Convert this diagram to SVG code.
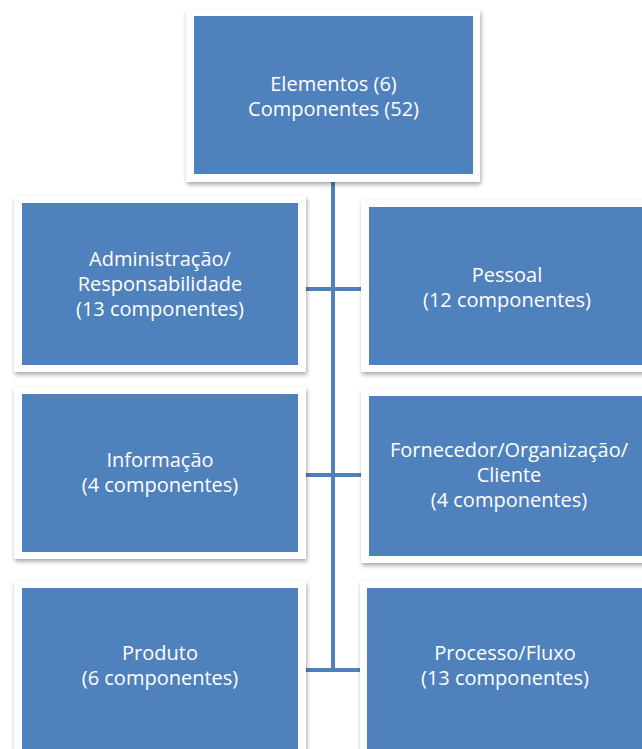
<svg xmlns="http://www.w3.org/2000/svg" width="642" height="749" viewBox="0 0 642 749">
  <defs>
    <filter id="shadow" x="-10%" y="-10%" width="120%" height="125%">
      <feDropShadow dx="1" dy="2.5" stdDeviation="2.2" flood-color="#000" flood-opacity="0.35"/>
    </filter>
  </defs>
  <style>
    .frame { fill: #ffffff; filter: url(#shadow); }
    .box { fill: #4f81bd; }
    .label { font-family: "Open Sans", "Liberation Sans", sans-serif; font-size: 20px; fill: #ffffff; text-anchor: middle; }
    .conn { stroke: #4f81bd; stroke-width: 4; fill: none; }
  </style>
  <rect width="642" height="749" fill="#ffffff"/>

  <!-- connectors: trunk from the root plus one cross-bar per row -->
  <g id="connectors">
    <line class="conn" x1="333" y1="178" x2="333" y2="672"/>
    <line class="conn" x1="304" y1="289" x2="363" y2="289"/>
    <line class="conn" x1="304" y1="475" x2="363" y2="475"/>
    <line class="conn" x1="304" y1="670" x2="363" y2="670"/>
  </g>

  <!-- root -->
  <g id="root">
    <rect class="frame" x="186" y="10" width="294" height="172"/>
    <rect class="box" x="194" y="16" width="279" height="158"/>
    <text class="label" x="333.5" y="91">Elementos (6)</text>
    <text class="label" x="333.5" y="116">Componentes (52)</text>
  </g>

  <g id="administracao">
    <rect class="frame" x="14" y="196" width="292" height="176"/>
    <rect class="box" x="22" y="203" width="276" height="162"/>
    <text class="label" x="160" y="266">Administração/</text>
    <text class="label" x="160" y="291">Responsabilidade</text>
    <text class="label" x="160" y="316">(13 componentes)</text>
  </g>

  <g id="pessoal">
    <rect class="frame" x="361" y="200" width="292" height="172"/>
    <rect class="box" x="369" y="207" width="276" height="158"/>
    <text class="label" x="507" y="282">Pessoal</text>
    <text class="label" x="507" y="307">(12 componentes)</text>
  </g>

  <g id="informacao">
    <rect class="frame" x="14" y="387" width="292" height="172"/>
    <rect class="box" x="22" y="394" width="276" height="158"/>
    <text class="label" x="160" y="467">Informação</text>
    <text class="label" x="160" y="492">(4 componentes)</text>
  </g>

  <g id="fornecedor">
    <rect class="frame" x="361" y="389" width="292" height="174"/>
    <rect class="box" x="369" y="396" width="276" height="160"/>
    <text class="label" x="509" y="457">Fornecedor/Organização/</text>
    <text class="label" x="509" y="482">Cliente</text>
    <text class="label" x="509" y="507">(4 componentes)</text>
  </g>

  <g id="produto">
    <rect class="frame" x="14" y="581" width="292" height="180"/>
    <rect class="box" x="22" y="588" width="276" height="170"/>
    <text class="label" x="160" y="660">Produto</text>
    <text class="label" x="160" y="685">(6 componentes)</text>
  </g>

  <g id="processo">
    <rect class="frame" x="360" y="581" width="292" height="180"/>
    <rect class="box" x="367" y="588" width="278" height="170"/>
    <text class="label" x="505" y="660">Processo/Fluxo</text>
    <text class="label" x="505" y="685">(13 componentes)</text>
  </g>
</svg>
